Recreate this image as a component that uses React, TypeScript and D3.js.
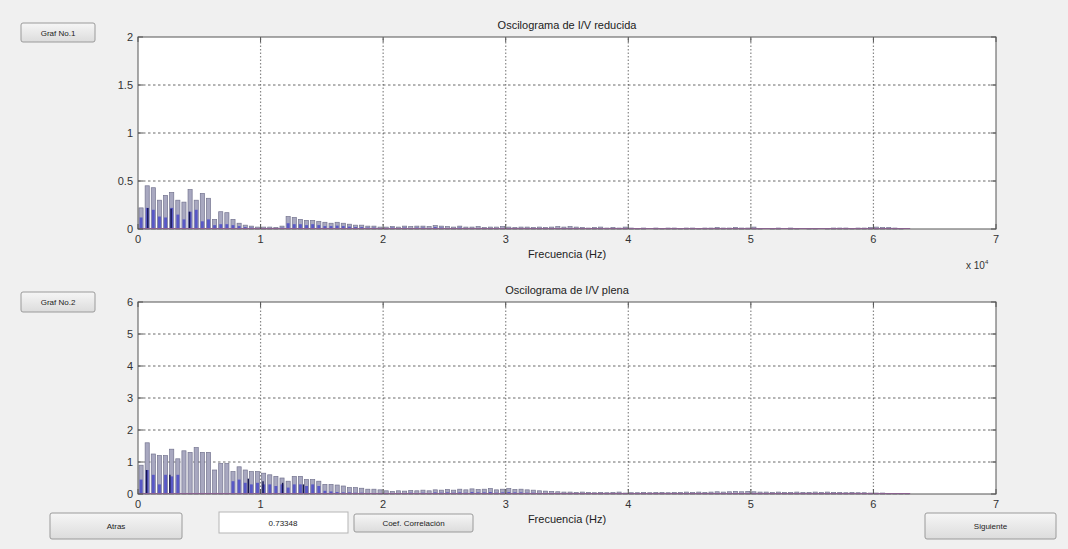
import React from "react";
import * as d3 from "d3";

// Spectrum bins: each value covers [i*binWidth, (i+1)*binWidth] in units of 10^4 Hz
const binWidth = 0.05;

const reducedGrey = [
  0.22, 0.45, 0.43, 0.3, 0.35, 0.38, 0.3, 0.28, 0.41, 0.3,
  0.37, 0.32, 0.1, 0.18, 0.17, 0.1, 0.06, 0.04, 0.03, 0.02,
  0.02, 0.02, 0.015, 0.03, 0.13, 0.12, 0.1, 0.09, 0.09, 0.08,
  0.07, 0.06, 0.07, 0.06, 0.05, 0.04, 0.04, 0.03, 0.03, 0.02,
  0.02, 0.025, 0.02, 0.03, 0.025, 0.03, 0.03, 0.025, 0.035, 0.03,
  0.025, 0.02, 0.03, 0.02, 0.02, 0.025, 0.015, 0.02, 0.02, 0.025,
  0.02, 0.015, 0.02, 0.02, 0.015, 0.02, 0.015, 0.02, 0.025, 0.02,
  0.025, 0.02, 0.015, 0.01, 0.015, 0.02, 0.01, 0.015, 0.01, 0.02,
  0.01, 0.005, 0.01, 0, 0.01, 0.005, 0.01, 0.01, 0.005, 0.01,
  0.01, 0.005, 0.01, 0.01, 0.015, 0.01, 0.01, 0.015, 0.01, 0.01,
  0.02, 0.005, 0, 0.005, 0.01, 0, 0.01, 0.005, 0, 0.005,
  0.005, 0, 0.005, 0.01, 0.01, 0.01, 0.005, 0.01, 0.01, 0.015,
  0.02, 0.015, 0.015, 0.01, 0.005, 0,
];

const reducedBlue = [
  0.12, 0.22, 0.2, 0.13, 0.12, 0.22, 0.15, 0.1, 0.18, 0.2,
  0.08, 0.1, 0.04, 0.05, 0.05, 0.04, 0.03, 0.02, 0.015, 0.01,
  0.01, 0.01, 0.01, 0.015, 0.06, 0.05, 0.05, 0.04, 0.05, 0.04,
  0.03, 0.03, 0.035, 0.03, 0.025, 0.02, 0.02, 0.015, 0.015, 0.01,
  0.01, 0.015, 0.01, 0.015, 0.01, 0.015, 0.015, 0.01, 0.02, 0.015,
  0.01, 0.01, 0.015, 0.01, 0.01, 0.01, 0.005, 0.01, 0.01, 0.01,
  0.01, 0.005, 0.01, 0.01, 0.005, 0.01, 0.005, 0.01, 0.01, 0.01,
  0.01, 0.01, 0.005, 0.005, 0.005, 0.01, 0.005, 0.005, 0.005, 0.01,
  0.005, 0, 0.005, 0, 0.005, 0, 0.005, 0.005, 0, 0.005,
  0.005, 0, 0.005, 0.005, 0.005, 0.005, 0.005, 0.005, 0.005, 0.005,
  0.01, 0, 0, 0, 0.005, 0, 0.005, 0, 0, 0,
  0, 0, 0, 0.005, 0.005, 0.005, 0, 0.005, 0.005, 0.005,
  0.01, 0.005, 0.005, 0.005, 0, 0,
];

const fullGrey = [
  0.9, 1.6, 1.25, 1.2, 1.2, 1.4, 1.1, 1.35, 1.3, 1.45,
  1.3, 1.3, 0.75, 0.95, 0.95, 0.7, 0.85, 0.75, 0.7, 0.7,
  0.65, 0.6, 0.55, 0.5, 0.4, 0.55, 0.55, 0.45, 0.45, 0.4,
  0.3, 0.3, 0.28, 0.25, 0.2, 0.2, 0.18, 0.15, 0.15, 0.13,
  0.1, 0.08, 0.1, 0.09, 0.11, 0.1, 0.12, 0.1, 0.13, 0.12,
  0.14, 0.12, 0.15, 0.13, 0.16, 0.14, 0.15, 0.17, 0.13, 0.15,
  0.17, 0.14, 0.15, 0.13, 0.12, 0.1, 0.09, 0.08, 0.07, 0.06,
  0.06, 0.05, 0.06, 0.05, 0.04, 0.05, 0.04, 0.05, 0.06, 0.03,
  0.04, 0.04, 0.05, 0.04, 0.05, 0.05, 0.04, 0.05, 0.05, 0.06,
  0.05, 0.06, 0.05, 0.06, 0.07, 0.06, 0.07, 0.08, 0.07, 0.08,
  0.07, 0.06, 0.06, 0.05, 0.06, 0.05, 0.05, 0.06, 0.05, 0.05,
  0.06, 0.05, 0.06, 0.05, 0.05, 0.04, 0.05, 0.04, 0.04, 0.03,
  0.03, 0.03, 0.02, 0.02, 0.01, 0.01,
];

const fullBlue = [
  0.45, 0.75, 0.6, 0.3, 0.6, 0.55, 0.6, 0, 0, 0,
  0, 0, 0, 0, 0, 0.4, 0.45, 0.35, 0.3, 0.35,
  0.3, 0.3, 0.25, 0.3, 0.2, 0.3, 0.3, 0.25, 0.3, 0.25,
  0.1, 0.08, 0.06, 0.05, 0.05, 0.04, 0.04, 0.03, 0.03, 0.03,
  0.03, 0.02, 0.03, 0.03, 0.04, 0.03, 0.04, 0.03, 0.05, 0.04,
  0.05, 0.04, 0.05, 0.04, 0.06, 0.05, 0.05, 0.06, 0.04, 0.05,
  0.06, 0.05, 0.05, 0.04, 0.04, 0.03, 0.03, 0.03, 0.02, 0.02,
  0.02, 0.02, 0.02, 0.02, 0.01, 0.02, 0.01, 0.02, 0.02, 0.01,
  0.01, 0.01, 0.02, 0.01, 0.02, 0.02, 0.01, 0.02, 0.02, 0.02,
  0.02, 0.02, 0.02, 0.02, 0.03, 0.02, 0.03, 0.03, 0.03, 0.03,
  0.03, 0.02, 0.02, 0.02, 0.02, 0.02, 0.02, 0.02, 0.02, 0.02,
  0.02, 0.02, 0.02, 0.02, 0.02, 0.01, 0.02, 0.01, 0.01, 0.01,
  0.01, 0.01, 0.01, 0.01, 0, 0,
];

// Dominant harmonic lines (frequency in 10^4 Hz, amplitude)
const reducedPeakFreq = [0.08, 0.27, 0.42];
const reducedPeakVal = [0.22, 0.21, 0.18];
const fullPeakFreq = [0.07, 0.26, 0.9, 1.02, 1.18, 1.35];
const fullPeakVal = [0.75, 0.6, 0.48, 0.4, 0.35, 0.3];

const xTicks = [0, 1, 2, 3, 4, 5, 6, 7];
const reducedYTicks = [0, 0.5, 1, 1.5, 2];
const fullYTicks = [0, 1, 2, 3, 4, 5, 6];

const W = 1068;
const H = 549;
const FONT = "'Liberation Sans', Arial, sans-serif";

type PanelProps = {
  title: string;
  top: number;
  bottom: number;
  yMax: number;
  yTicks: number[];
  grey: number[];
  blue: number[];
  peakFreq: number[];
  peakVal: number[];
  showExponent: boolean;
};

function Panel(p: PanelProps) {
  const x = d3.scaleLinear().domain([0, 7]).range([138, 996]);
  const y = d3.scaleLinear().domain([0, p.yMax]).range([p.bottom, p.top]);
  const bw = x(binWidth) - x(0);
  const dataEnd = binWidth * p.grey.length;
  const gridColor = "#3a3a3a";

  return (
    <g>
      <rect x={x(0)} y={y(p.yMax)} width={x(7) - x(0)} height={y(0) - y(p.yMax)} fill="#ffffff" />

      {/* grid */}
      {p.yTicks.slice(1, -1).map((t) => (
        <line key={"gy" + t} x1={x(0)} x2={x(7)} y1={y(t)} y2={y(t)}
          stroke={gridColor} strokeWidth={1} strokeDasharray="2.5,2.5" opacity={0.75} />
      ))}
      {xTicks.slice(1, -1).map((t) => (
        <line key={"gx" + t} x1={x(t)} x2={x(t)} y1={y(0)} y2={y(p.yMax)}
          stroke={gridColor} strokeWidth={1.2} strokeDasharray="1.5,2" opacity={0.6} />
      ))}

      {/* spectrum bars */}
      {p.grey.map((v, i) => (
        <rect key={"g" + i} x={x(i * binWidth) + 1} width={bw - 2}
          y={y(v)} height={y(0) - y(v)} fill="#a8a8c0" stroke="#74748f" strokeWidth={0.7} />
      ))}
      {p.blue.map((v, i) => (
        <rect key={"b" + i} x={x(i * binWidth) + 1.6} width={bw - 3.2}
          y={y(v)} height={y(0) - y(v)} fill="#4f4fc6" opacity={0.9} />
      ))}
      {p.peakFreq.map((f, i) => (
        <line key={"p" + i} x1={x(f)} x2={x(f)} y1={y(0)} y2={y(p.peakVal[i])}
          stroke="#141450" strokeWidth={1.4} />
      ))}
      <line x1={x(0)} x2={x(dataEnd)} y1={y(0) - 0.5} y2={y(0) - 0.5} stroke="#c070c8" strokeWidth={1.2} />

      {/* frame */}
      <rect x={x(0)} y={y(p.yMax)} width={x(7) - x(0)} height={y(0) - y(p.yMax)}
        fill="none" stroke="#555" strokeWidth={1} />
      {xTicks.map((t) => (
        <g key={"tx" + t}>
          <line x1={x(t)} x2={x(t)} y1={y(0)} y2={y(0) - 5} stroke="#555" />
          <line x1={x(t)} x2={x(t)} y1={y(p.yMax)} y2={y(p.yMax) + 5} stroke="#555" />
          <text x={x(t)} y={y(0) + 14} textAnchor="middle" fontSize={11} fill="#333">{t}</text>
        </g>
      ))}
      {p.yTicks.map((t) => (
        <g key={"ty" + t}>
          <line x1={x(0)} x2={x(0) + 5} y1={y(t)} y2={y(t)} stroke="#555" />
          <line x1={x(7)} x2={x(7) - 5} y1={y(t)} y2={y(t)} stroke="#555" />
          <text x={x(0) - 5} y={y(t) + 4} textAnchor="end" fontSize={11} fill="#333">{t}</text>
        </g>
      ))}

      <text x={567} y={p.top - 8} textAnchor="middle" fontSize={11} fill="#222">{p.title}</text>
      <text x={567} y={p.bottom + 29} textAnchor="middle" fontSize={11} fill="#222">Frecuencia (Hz)</text>
      {p.showExponent && (
        <text x={966} y={p.bottom + 40} fontSize={10} fill="#333">
          x 10<tspan dy={-5} fontSize={6}>4</tspan>
        </text>
      )}
    </g>
  );
}

function Button(props: { x: number; y: number; w: number; h: number; label: string; fs?: number }) {
  const { x, y, w, h, label } = props;
  return (
    <g>
      <rect x={x} y={y} width={w} height={h} rx={2} fill="url(#btnGrad)" stroke="#9a9a9a" strokeWidth={1} />
      <text x={x + w / 2} y={y + h / 2 + 3} textAnchor="middle" fontSize={props.fs ?? 8} fill="#222">{label}</text>
    </g>
  );
}

export default function App() {
  return (
    <div style={{ position: "absolute", left: 0, top: 0, width: W, height: H }}>
      <svg width={W} height={H} style={{ display: "block", fontFamily: FONT }}>
        <defs>
          <linearGradient id="btnGrad" x1="0" y1="0" x2="0" y2="1">
            <stop offset="0" stopColor="#f6f6f6" />
            <stop offset="1" stopColor="#dcdcdc" />
          </linearGradient>
        </defs>
        <rect width={W} height={H} fill="#f0f0f0" />

        <Panel title="Oscilograma de I/V reducida" top={37} bottom={229} yMax={2}
          yTicks={reducedYTicks} grey={reducedGrey} blue={reducedBlue}
          peakFreq={reducedPeakFreq} peakVal={reducedPeakVal} showExponent={true} />
        <Panel title="Oscilograma de I/V plena" top={302} bottom={494} yMax={6}
          yTicks={fullYTicks} grey={fullGrey} blue={fullBlue}
          peakFreq={fullPeakFreq} peakVal={fullPeakVal} showExponent={false} />

        <Button x={21} y={23} w={74} h={19} label="Graf No.1" />
        <Button x={21} y={292} w={74} h={20} label="Graf No.2" />
        <Button x={50} y={513} w={132} h={26} label="Atras" />
        <rect x={219} y={512} width={129} height={21} fill="#ffffff" stroke="#b5b5b5" />
        <text x={283} y={526} textAnchor="middle" fontSize={8} fill="#222">0.73348</text>
        <Button x={354} y={514} w={119} h={18} label="Coef. Correlación" />
        <Button x={925} y={513} w={131} h={26} label="Siguiente" />
      </svg>
    </div>
  );
}
